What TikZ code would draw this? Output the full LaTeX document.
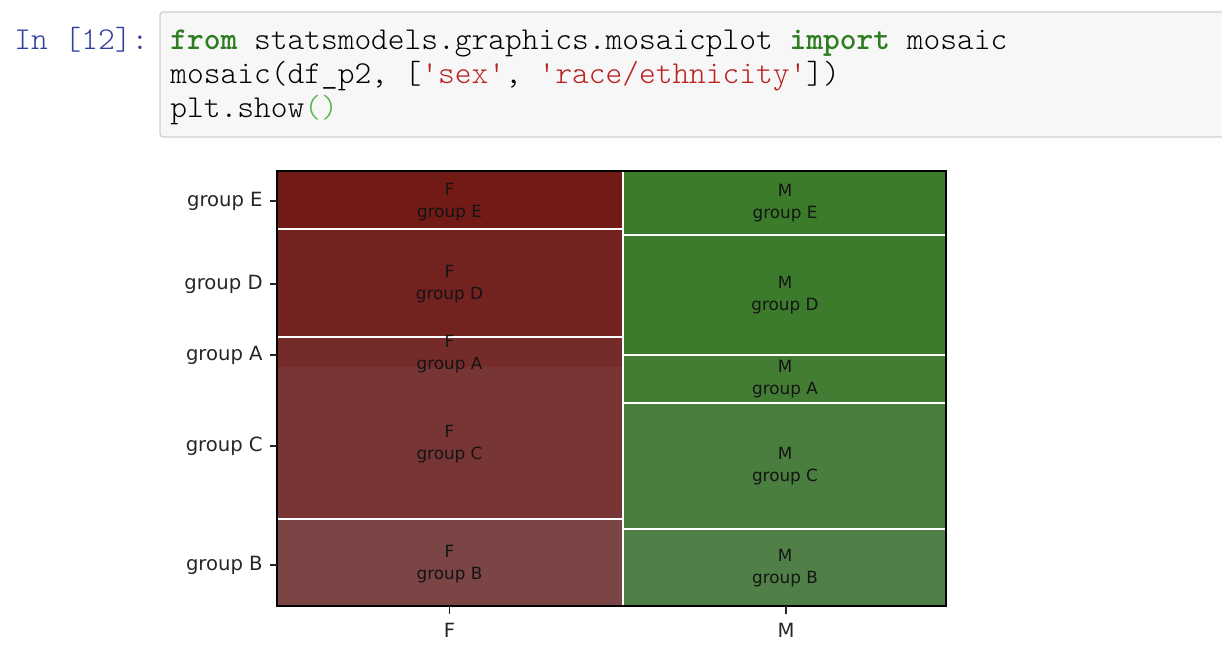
\documentclass[tikz,border=0pt]{standalone}
\usepackage{fontspec}
\setmainfont{DejaVu Sans}
\newfontfamily\codefont{lmmonolt10-regular.otf}[BoldFont=lmmonolt10-bold.otf]
\definecolor{fE}{RGB}{114,27,22}
\definecolor{fD}{RGB}{115,34,32}
\definecolor{fA}{RGB}{116,43,41}
\definecolor{fC}{RGB}{119,54,53}
\definecolor{fB}{RGB}{122,69,68}
\definecolor{mE}{RGB}{59,123,42}
\definecolor{mD}{RGB}{61,123,44}
\definecolor{mA}{RGB}{67,124,51}
\definecolor{mC}{RGB}{74,126,63}
\definecolor{mB}{RGB}{80,128,71}
\definecolor{kwgreen}{RGB}{46,125,33}
\definecolor{strred}{RGB}{186,33,33}
\definecolor{pargreen}{RGB}{80,180,70}
\definecolor{promptblue}{RGB}{48,63,159}
\definecolor{cellborder}{RGB}{207,207,207}
\definecolor{cellfill}{RGB}{247,247,247}
\definecolor{tilefont}{RGB}{20,20,20}
\begin{document}
\begin{tikzpicture}[x=0.5pt,y=-0.5pt,
  codeline/.style={anchor=base west,inner sep=0pt,font=\codefont\fontsize{15.94}{17}\selectfont},
  prompt/.style={anchor=base west,inner sep=0pt,text=promptblue,font=\codefont\fontsize{15.94}{17}\selectfont},
  tilelabel/.style={align=center,inner sep=0pt,text=tilefont,font=\fontsize{8.4}{10.7}\selectfont},
  ticklabel/.style={inner sep=0pt,text=black!85,font=\fontsize{9.8}{11}\selectfont},
  tickmark/.style={line width=0.6pt,black!85}]
\useasboundingbox (0,0) rectangle (1222,668);
\clip (0,0) rectangle (1222,668);
% code cell
\draw[cellborder,fill=cellfill,line width=0.6pt,rounded corners=1.5pt] (160,12) rectangle (1240,137);
\node[prompt] (prm) at (14,50) {In [12]:};
\node[codeline] (l1) at (170,50) {\textcolor{kwgreen}{\textbf{from}} statsmodels.graphics.mosaicplot \textcolor{kwgreen}{\textbf{import}} mosaic};
\node[codeline] (l2) at (170,84) {mosaic(df\_p2, [\textcolor{strred}{'sex'}, \textcolor{strred}{'race/ethnicity'}])};
\node[codeline] (l3) at (170,118) {plt.show\textcolor{pargreen}{()}};
% F tiles
\fill[fE] (277,171) rectangle (622,228);
\fill[fD] (277,230) rectangle (622,336);
\fill[fC] (277,338) rectangle (622,518);
\fill[fA] (277,338) rectangle (622,367);
\fill[fB] (277,520) rectangle (622,606);
% M tiles
\fill[mE] (624,171) rectangle (946,234);
\fill[mD] (624,236) rectangle (946,354);
\fill[mA] (624,356) rectangle (946,402);
\fill[mC] (624,404) rectangle (946,528);
\fill[mB] (624,530) rectangle (946,606);
% frame
\draw[line width=0.75pt,black] (277,171) rectangle (946,606);
% tile labels
\node[tilelabel] (tFE) at (449.5,202) {F\\group E};
\node[tilelabel] (tFD) at (449.5,284) {F\\group D};
\node[tilelabel] (tFA) at (449.5,354) {F\\group A};
\node[tilelabel] (tFC) at (449.5,444) {F\\group C};
\node[tilelabel] (tFB) at (449.5,564) {F\\group B};
\node[tilelabel] (tME) at (785,203) {M\\group E};
\node[tilelabel] (tMD) at (785,295) {M\\group D};
\node[tilelabel] (tMA) at (785,379) {M\\group A};
\node[tilelabel] (tMC) at (785,466) {M\\group C};
\node[tilelabel] (tMB) at (785,568) {M\\group B};
% y ticks
\foreach \n/\yy/\t in {yE/201/group E,yD/284/group D,yA/355/group A,yC/446/group C,yB/565/group B}{
  \coordinate (\n t) at (277,\yy);
  \coordinate (\n s) at (270,\yy);
  \draw[tickmark] (\n t) -- (\n s);
  \node[ticklabel,anchor=east] (\n) at (263,\yy) {\t};
}
% x ticks
\foreach \n/\xx/\t in {xF/449.5/F,xM/786/M}{
  \coordinate (\n t) at (\xx,606);
  \coordinate (\n s) at (\xx,614);
  \draw[tickmark] (\n t) -- (\n s);
  \node[ticklabel,anchor=center] (\n) at (\xx,630) {\t};
}
\end{tikzpicture}
\end{document}
